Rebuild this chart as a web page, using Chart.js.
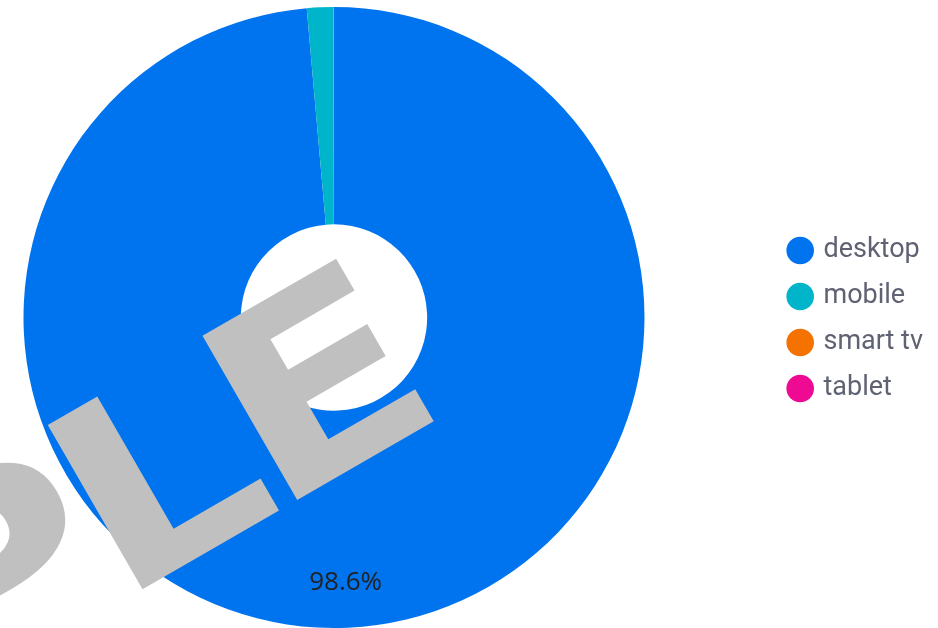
<!DOCTYPE html>
<html>
<head>
<meta charset="utf-8">
<script src="https://cdn.jsdelivr.net/npm/chart.js@4"></script>
<style>
  html, body { margin: 0; padding: 0; background: #fff; }
  #wrap { width: 938px; height: 628px; }
</style>
</head>
<body>
<div id="wrap"><canvas id="chart"></canvas></div>
<script>
// data
const categories = ['desktop', 'mobile', 'smart tv', 'tablet'];
const shares = [98.6, 1.37, 0.02, 0.01];
const colors = ['#0073ee', '#00b5c9', '#f57200', '#ee0a93'];

// keep the doughnut centred at x = 334 and nudge the legend into place
const placement = {
    id: 'placement',
    beforeInit(chart) {
        const legend = chart.legend;
        const fit = legend.fit;
        legend.fit = function () {
            fit.call(this);
            this.width += 5;
        };
    },
    afterLayout(chart) {
        const area = chart.chartArea;
        area.left = 2 * 334 - area.right;
        area.width = area.right - area.left;
        chart.legend.top += 2;
        chart.legend.bottom += 2;
    }
};

// percentage label inside the big slice
const sliceLabels = {
    id: 'sliceLabels',
    afterDatasetsDraw(chart) {
        const ctx = chart.ctx;
        const meta = chart.getDatasetMeta(0);
        const total = shares.reduce((a, b) => a + b, 0);
        ctx.save();
        ctx.font = '26px "Open Sans"';
        ctx.fillStyle = '#222';
        ctx.textAlign = 'center';
        ctx.textBaseline = 'middle';
        meta.data.forEach((arc, i) => {
            const pct = shares[i] / total * 100;
            if (pct < 5) return;
            const p = arc.getProps(['x', 'y', 'startAngle', 'endAngle', 'innerRadius', 'outerRadius'], true);
            const mid = (p.startAngle + p.endAngle) / 2;
            const r = p.innerRadius + (p.outerRadius - p.innerRadius) * 0.79;
            ctx.fillText(pct.toFixed(1) + '%', p.x + Math.cos(mid) * r, p.y + Math.sin(mid) * r);
        });
        ctx.restore();
    }
};

// watermark on top, letters set from the right end with tighter spacing
const watermark = {
    id: 'watermark',
    afterDraw(chart) {
        const ctx = chart.ctx;
        const word = 'SAMPLE';
        const tighten = 13;
        ctx.save();
        ctx.translate(453, 410);
        ctx.rotate(-30 * Math.PI / 180);
        ctx.scale(1.17, 1);
        ctx.font = 'bold 260px "DejaVu Sans"';
        ctx.fillStyle = '#c0c0c0';
        ctx.textAlign = 'left';
        ctx.textBaseline = 'alphabetic';
        let x = 0;
        for (let i = word.length - 1; i >= 0; i--) {
            x -= ctx.measureText(word[i]).width;
            if (i < word.length - 1) x += tighten;
            ctx.fillText(word[i], x, 0);
        }
        ctx.restore();
    }
};

const chartCanvas = document.querySelector('#chart');

const chart = new Chart(chartCanvas, {
    type: 'doughnut',
    data: {
        labels: categories,
        datasets: [{
            data: shares,
            backgroundColor: colors,
            borderWidth: 0
        }]
    },
    options: {
        responsive: true,
        maintainAspectRatio: false,
        animation: false,
        cutout: '30%',
        layout: {
            padding: { left: 0, top: 7, right: 0, bottom: 0 }
        },
        plugins: {
            legend: {
                position: 'right',
                labels: {
                    usePointStyle: true,
                    pointStyle: 'circle',
                    boxWidth: 19.5,
                    boxHeight: 19.5,
                    padding: 19,
                    color: '#5f6272',
                    font: { family: 'Roboto', size: 27 }
                }
            },
            tooltip: { enabled: false }
        }
    },
    plugins: [placement, sliceLabels, watermark]
});
</script>
</body>
</html>
